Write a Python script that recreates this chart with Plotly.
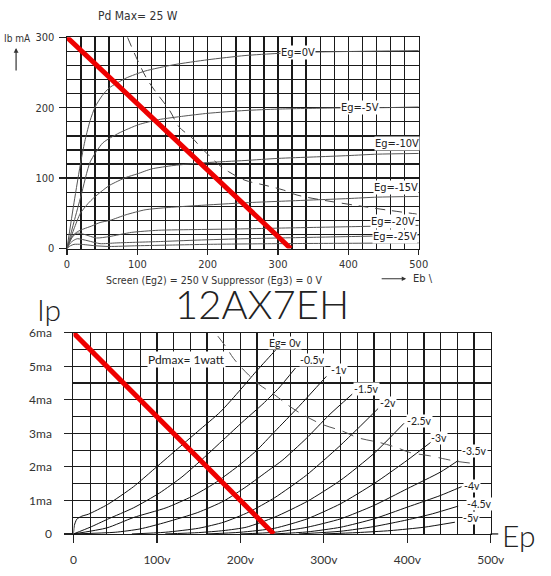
import plotly.graph_objects as go

W, H = 551, 576


def px(x):
    return x / W


def py(y):
    return 1 - y / H


# ---------------- TOP CHART DATA (Eb in V, Ib in mA) ----------------
top_eg0_v = [0, 10, 20, 26, 33, 40, 50, 60, 84, 111, 152, 200, 253, 300, 354, 420, 500]
top_eg0_i = [0, 65, 125, 155, 182, 201, 217, 228, 242, 252, 261, 268, 274, 277, 279, 280, 281]

top_eg5_v = [0, 10, 20, 33, 51, 74, 102, 130, 166, 200, 253, 300, 377, 450, 500]
top_eg5_i = [0, 38, 75, 123, 150, 164, 176, 183, 188, 192, 196, 198, 199.5, 200, 201]

top_eg10_v = [0, 10, 19, 30, 38, 50, 61, 84, 100, 120, 152, 198, 253, 300, 350, 400, 441, 500]
top_eg10_i = [0, 28, 50, 64, 72, 82, 90, 101, 106, 113, 118, 122, 125, 128, 130, 132, 134, 135]

top_eg15_v = [0, 8, 15, 24, 35, 47, 61, 84, 111, 140, 185, 253, 300, 350, 400, 441, 500]
top_eg15_i = [0, 18, 24, 28, 32, 37, 40, 48, 55, 58, 61, 65, 67, 69, 71, 73, 74]

top_eg20_v = [0, 5, 10, 15, 25, 42, 60, 92, 130, 185, 253, 300, 350, 400, 450, 500]
top_eg20_i = [0, 12, 19, 22, 20, 15, 17, 23, 26, 27, 28, 29, 30, 31, 32, 33]

top_eg25_v = [0, 5, 10, 15, 30, 47, 70, 100, 133, 185, 253, 300, 350, 400, 450, 500]
top_eg25_i = [0, 8, 12, 14, 11, 7, 8, 9, 10, 12, 14, 15, 16, 17, 18, 19]

top_extra_v = [0, 5, 10, 20, 40, 60, 100, 150, 200, 300, 400, 500]
top_extra_i = [0, 4, 6, 6, 4, 3, 4, 5, 6, 7, 7.5, 8]

top_pd_v = [86, 100, 113, 125, 146, 159, 178, 191, 217, 230, 253, 281, 308, 327, 419, 497]
top_pd_i = [300, 268, 242, 224, 196, 173, 157, 143, 118, 109, 97, 90, 83, 76, 60, 49]

top_load_v = [0, 318]
top_load_i = [300, 0]

top_labels = ["Eg=0V", "Eg=-5V", "Eg=-10V", "Eg=-15V", "Eg=-20V", "Eg=-25V"]
top_label_v = [329, 417, 469, 468, 464, 466]
top_label_i = [278, 200, 149, 87, 38.5, 17.5]

top_xticks = [0, 100, 200, 300, 400, 500]
top_yticks = [0, 100, 200, 300]

# ---------------- BOTTOM CHART DATA (Ep in V, Ip in mA) ----------------
bot_eg0_v = [0, 1, 4, 10, 18, 41, 72, 95, 122, 149, 176, 200, 219, 242, 250]
bot_eg0_i = [0, 0.25, 0.44, 0.53, 0.59, 0.88, 1.41, 1.9, 2.48, 3.06, 3.64, 4.3, 4.85, 5.48, 5.7]

bot_eg05_v = [0, 20, 41, 72, 103, 130, 157, 180, 203, 227, 246, 266]
bot_eg05_i = [0, 0.2, 0.44, 0.78, 1.22, 1.7, 2.29, 2.82, 3.35, 3.88, 4.35, 4.95]

bot_eg1_v = [0, 40, 72, 111, 142, 169, 196, 219, 241, 270, 303]
bot_eg1_i = [0, 0.18, 0.49, 0.78, 1.12, 1.51, 2.0, 2.48, 3.05, 3.8, 4.7]

bot_eg15_v = [0, 50, 80, 111, 149, 180, 207, 234, 250, 279, 306, 334]
bot_eg15_i = [0, 0.05, 0.15, 0.35, 0.64, 0.98, 1.41, 1.9, 2.19, 2.85, 3.54, 4.17]

bot_eg2_v = [70, 110, 150, 180, 210, 241, 279, 318, 341, 365]
bot_eg2_i = [0, 0.05, 0.17, 0.35, 0.65, 1.08, 1.75, 2.6, 3.15, 3.74]

bot_eg25_v = [110, 150, 180, 207, 241, 280, 320, 360, 396]
bot_eg25_i = [0, 0.04, 0.1, 0.2, 0.5, 0.97, 1.6, 2.4, 3.3]

bot_eg3_v = [160, 200, 241, 280, 320, 360, 400, 430]
bot_eg3_i = [0, 0.05, 0.17, 0.45, 0.9, 1.5, 2.2, 2.77]

bot_eg35_v = [200, 241, 280, 320, 360, 400, 440, 461]
bot_eg35_i = [0, 0.05, 0.2, 0.45, 0.85, 1.35, 1.85, 2.19]

bot_eg4_v = [240, 280, 320, 360, 400, 440, 465]
bot_eg4_i = [0, 0.06, 0.2, 0.45, 0.8, 1.15, 1.41]

bot_eg45_v = [270, 320, 360, 400, 430, 461]
bot_eg45_i = [0, 0.08, 0.22, 0.42, 0.6, 0.83]

bot_eg5_v = [300, 340, 380, 420, 457]
bot_eg5_i = [0, 0.04, 0.1, 0.2, 0.35]

bot_pd_v = [173, 183, 192, 210, 223, 241, 260, 279, 299, 322, 341, 368, 388, 403, 427, 446, 458, 477]
bot_pd_i = [5.9, 5.57, 5.23, 4.74, 4.45, 4.15, 3.79, 3.5, 3.26, 3.07, 2.87, 2.72, 2.57, 2.43, 2.33, 2.23, 2.17, 2.11]

bot_load_v = [0, 240]
bot_load_i = [6, 0]

bot_labels = ["Eg= 0v", "-0.5v", "-1v", "-1.5v", "-2v", "-2.5v", "-3v", "-3.5v", "-4v", "-4.5v", "-5v"]
bot_label_v = [253.5, 286, 318, 351, 377, 415, 438, 480, 478, 486, 476]
bot_label_i = [5.69, 5.19, 4.9, 4.32, 3.9, 3.38, 2.86, 2.46, 1.44, 0.9, 0.47]

bot_xticks = [0, 100, 200, 300, 400, 500]
bot_xtext = ["0", "100v", "200v", "300v", "400v", "500v"]
bot_yticks = [0, 1, 2, 3, 4, 5, 6]
bot_ytext = ["0", "1ma", "2ma", "3ma", "4ma", "5ma", "6ma"]

TOPFONT = "DejaVu Sans Condensed, Liberation Sans Narrow, DejaVu Sans"
BOTFONT = "Lato, Noto Sans, DejaVu Sans"

fig = go.Figure()

# top curves
for v, i in [(top_eg0_v, top_eg0_i), (top_eg5_v, top_eg5_i), (top_eg10_v, top_eg10_i),
             (top_eg15_v, top_eg15_i), (top_eg20_v, top_eg20_i), (top_eg25_v, top_eg25_i),
             (top_extra_v, top_extra_i)]:
    fig.add_trace(go.Scatter(x=v, y=i, mode="lines", line=dict(color="#555", width=1, shape="spline", smoothing=0.6),
                             xaxis="x", yaxis="y", showlegend=False, hoverinfo="skip"))
fig.add_trace(go.Scatter(x=top_pd_v, y=top_pd_i, mode="lines",
                         line=dict(color="#444", width=1, dash="10px,7px", shape="spline"),
                         xaxis="x", yaxis="y", showlegend=False, hoverinfo="skip"))
fig.add_trace(go.Scatter(x=top_load_v, y=top_load_i, mode="lines", line=dict(color="#ee0000", width=5),
                         xaxis="x", yaxis="y", showlegend=False, hoverinfo="skip"))

# bottom curves
for v, i in [(bot_eg0_v, bot_eg0_i), (bot_eg05_v, bot_eg05_i), (bot_eg1_v, bot_eg1_i),
             (bot_eg15_v, bot_eg15_i), (bot_eg2_v, bot_eg2_i), (bot_eg25_v, bot_eg25_i),
             (bot_eg3_v, bot_eg3_i), (bot_eg35_v, bot_eg35_i), (bot_eg4_v, bot_eg4_i),
             (bot_eg45_v, bot_eg45_i), (bot_eg5_v, bot_eg5_i)]:
    fig.add_trace(go.Scatter(x=v, y=i, mode="lines", line=dict(color="#111", width=1, shape="spline", smoothing=0.6),
                             xaxis="x2", yaxis="y2", showlegend=False, hoverinfo="skip"))
fig.add_trace(go.Scatter(x=bot_pd_v, y=bot_pd_i, mode="lines",
                         line=dict(color="#555", width=1, dash="12px,8px", shape="spline"),
                         xaxis="x2", yaxis="y2", showlegend=False, hoverinfo="skip"))
fig.add_trace(go.Scatter(x=bot_load_v, y=bot_load_i, mode="lines", line=dict(color="#ee0000", width=5),
                         xaxis="x2", yaxis="y2", showlegend=False, hoverinfo="skip"))

C = dict(xanchor="center", yanchor="middle")

annotations = []
for t, v, i in zip(top_labels, top_label_v, top_label_i):
    annotations.append(dict(x=v, y=i, xref="x", yref="y", text=t, showarrow=False,
                            font=dict(family=TOPFONT, size=11, color="#222"),
                            bgcolor="white", borderpad=0, **C))
for t, v, i in zip(bot_labels, bot_label_v, bot_label_i):
    annotations.append(dict(x=v, y=i, xref="x2", yref="y2", text=t, showarrow=False,
                            font=dict(family=BOTFONT, size=10.5, color="#222"),
                            bgcolor="white", borderpad=0, **C))
annotations.append(dict(x=px(189), y=py(360.7), xref="paper", yref="paper", text="Pdmax= 1watt",
                        showarrow=False, font=dict(family=BOTFONT, size=12, color="#222"),
                        bgcolor="white", borderpad=0, **C))
annotations += [
    dict(x=px(139), y=py(8), xref="paper", yref="paper", text="Pd Max= 25 W", showarrow=False,
         font=dict(family=TOPFONT, size=12, color="#333"), **C),
    dict(x=px(15), y=py(31), xref="paper", yref="paper", text="Ib mA", showarrow=False,
         font=dict(family=TOPFONT, size=10, color="#333"), **C),
    dict(x=px(13.5), y=py(41), xref="paper", yref="paper", text="", showarrow=True,
         ax=0, ay=24, arrowhead=2, arrowsize=0.8, arrowwidth=1.2, arrowcolor="#333"),
    dict(x=px(217.5), y=py(279), xref="paper", yref="paper",
         text="Screen (Eg2) = 250 V Suppressor (Eg3) = 0 V", showarrow=False,
         font=dict(family=TOPFONT, size=10.5, color="#333"), **C),
    dict(x=px(416), y=py(278), xref="paper", yref="paper", text="", showarrow=True,
         ax=-26, ay=0, arrowhead=2, arrowsize=0.8, arrowwidth=1.1, arrowcolor="#333"),
    dict(x=px(433), y=py(278), xref="paper", yref="paper", text="Eb \\", showarrow=False,
         font=dict(family=TOPFONT, size=11, color="#333"), **C),
    dict(x=px(267), y=py(304), xref="paper", yref="paper", text="12AX7EH", showarrow=False,
         font=dict(family=BOTFONT, size=40, color="#222", weight=300), **C),
    dict(x=px(47), y=py(309), xref="paper", yref="paper", text="Ip", showarrow=False,
         font=dict(family=BOTFONT, size=30, color="#222", weight=300), **C),
    dict(x=px(532), y=py(541), xref="paper", yref="paper", text="Ep", showarrow=False,
         font=dict(family=BOTFONT, size=30, color="#222", weight=300), **C),
]

grid_top = dict(gridcolor="#1a1a1a", gridwidth=1.4)
grid_bot = dict(gridcolor="#1a1a1a", gridwidth=1.2)

fig.update_layout(
    width=W, height=H, autosize=False,
    margin=dict(l=0, r=0, t=0, b=0),
    paper_bgcolor="white", plot_bgcolor="white",
    showlegend=False,
    annotations=annotations,
    shapes=[dict(type="line", xref="paper", yref="paper", x0=px(503), x1=px(511), y0=py(540), y1=py(540),
                 line=dict(color="#111", width=1.2))],
    xaxis=dict(domain=[px(66), px(429)], range=[0, 500], anchor="y",
               tickvals=top_xticks, ticks="outside", ticklen=5, tickcolor="#222", tickwidth=1.3,
               showgrid=True, **grid_top, zeroline=False,
               showline=True, mirror=True, linecolor="#1a1a1a", linewidth=1.4,
               minor=dict(dtick=20, showgrid=True, gridcolor="#1a1a1a", gridwidth=1.4, ticks=""),
               tickfont=dict(family=TOPFONT, size=11, color="#333"), ticklabelstandoff=0),
    yaxis=dict(domain=[py(247), py(30)], range=[0, 300], anchor="x",
               tickvals=top_yticks, ticks="outside", ticklen=7, tickcolor="#222", tickwidth=1.3,
               showgrid=True, **grid_top, zeroline=False,
               showline=True, mirror=True, linecolor="#1a1a1a", linewidth=1.4,
               minor=dict(dtick=20, showgrid=True, gridcolor="#1a1a1a", gridwidth=1.4, ticks=""),
               tickfont=dict(family=TOPFONT, size=11, color="#333"), ticklabelstandoff=2),
    xaxis2=dict(domain=[px(72.7), px(503.3)], range=[0, 500], anchor="y2",
                tickvals=bot_xticks, ticktext=bot_xtext, ticks="outside", ticklen=8,
                tickcolor="#222", tickwidth=1.2,
                showgrid=True, **grid_bot, zeroline=False,
                showline=True, mirror=True, linecolor="#1a1a1a", linewidth=1.2,
                minor=dict(dtick=20, showgrid=True, gridcolor="#1a1a1a", gridwidth=1.2, ticks=""),
                tickfont=dict(family=BOTFONT, size=12, color="#333"), ticklabelstandoff=6),
    yaxis2=dict(domain=[py(540), py(333.5)], range=[0, 6], anchor="x2",
                tickvals=bot_yticks, ticktext=bot_ytext, ticks="outside", ticklen=8,
                tickcolor="#222", tickwidth=1.2,
                showgrid=True, **grid_bot, zeroline=False,
                showline=True, mirror=True, linecolor="#1a1a1a", linewidth=1.2,
                minor=dict(dtick=0.5, showgrid=True, gridcolor="#1a1a1a", gridwidth=1.2, ticks=""),
                tickfont=dict(family=BOTFONT, size=12, color="#333"), ticklabelstandoff=10),
)

POST = (
    "document.documentElement.style.margin='0';"
    "document.documentElement.style.overflow='hidden';"
    "document.body.style.margin='0';"
    "document.body.style.overflow='hidden';"
    "var d=document.querySelector('.plotly-graph-div');"
    "if(d){d.style.position='fixed';d.style.left='0px';d.style.top='0px';}"
)

fig.write_html("out.html", config={"displayModeBar": False, "staticPlot": True}, post_script=POST)
